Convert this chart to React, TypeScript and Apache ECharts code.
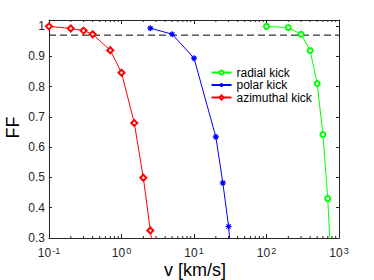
import React, { useEffect, useRef } from "react";
import * as echarts from "echarts";

// ---- data ----
const radialV = [100, 200, 300, 400, 500, 600, 700, 800];
const radialFF = [0.999, 0.995, 0.973, 0.919, 0.81, 0.642, 0.43, 0.15];

const polarV = [2.5, 5, 10, 20, 25, 30, 35];
const polarFF = [0.993, 0.973, 0.894, 0.634, 0.482, 0.338, 0.16];

const azimV = [0.1, 0.2, 0.3, 0.4, 0.7, 1, 1.5, 2, 2.5, 3];
const azimFF = [0.999, 0.992, 0.985, 0.973, 0.92, 0.846, 0.68, 0.499, 0.325, 0.18];

const thresholdFF = 0.97;

const seriesNames = ["radial kick", "polar kick", "azimuthal kick"];

// axis
const xMin = 0.1;
const xMax = 1000;
const yMin = 0.3;
const yMax = 1.02;
const yInterval = 0.1;
const minorDecades = [0.1, 1, 10, 100];
const minorMultipliers = [2, 3, 4, 5, 6, 7, 8, 9];

const FONT = "Liberation Sans";
const AX = "#262626";

const asteriskPath =
  "path://M5,0L5,10M0,5L10,5M1.5,1.5L8.5,8.5M1.5,8.5L8.5,1.5";

export default function App() {
  const ref = useRef<HTMLDivElement>(null);

  useEffect(() => {
    if (!ref.current) return;
    const chart = echarts.init(ref.current, undefined, { renderer: "svg" });

    const zip = (xs: number[], ys: number[]) => xs.map((x, i) => [x, ys[i]]);
    const minorTicks: number[][] = [];
    minorDecades.forEach((d) =>
      minorMultipliers.forEach((m) => minorTicks.push([d * m, yMin]))
    );

    const xLabelFormatter = (v: number) => {
      const e = Math.round(Math.log10(v));
      return `{b|10}{s|${e}}`;
    };

    const option: any = {
      animation: false,
      textStyle: { fontFamily: FONT },
      grid: { left: 49, right: 35, top: 20, bottom: 42, containLabel: false },
      xAxis: [
        {
          type: "log",
          logBase: 10,
          min: xMin,
          max: xMax,
          position: "bottom",
          axisLine: { lineStyle: { color: AX, width: 1 } },
          axisTick: { inside: true, length: 4, lineStyle: { color: AX } },
          splitLine: { show: false },
          minorTick: { show: false },
          axisLabel: {
            margin: 8,
            formatter: xLabelFormatter,
            rich: {
              b: {
                fontSize: 12,
                fontFamily: FONT,
                color: AX,
                lineHeight: 13,
                verticalAlign: "bottom",
              },
              s: {
                fontSize: 9,
                fontFamily: FONT,
                color: AX,
                lineHeight: 13,
                verticalAlign: "top",
                padding: [0, 0, 0, 1],
              },
            },
          },
        },
        {
          type: "log",
          logBase: 10,
          min: xMin,
          max: xMax,
          position: "top",
          axisLine: { lineStyle: { color: AX, width: 1 } },
          axisTick: { inside: true, length: 4, lineStyle: { color: AX } },
          splitLine: { show: false },
          axisLabel: { show: false },
        },
      ],
      yAxis: [
        {
          type: "value",
          min: yMin,
          max: yMax,
          interval: yInterval,
          position: "left",
          axisLine: { show: true, lineStyle: { color: AX, width: 1 } },
          axisTick: { show: true, inside: true, length: 3, lineStyle: { color: AX } },
          splitLine: { show: false },
          axisLabel: {
            margin: 4,
            fontSize: 12,
            fontFamily: FONT,
            color: AX,
            formatter: (v: number) => {
              const r = Math.round(v * 10) / 10;
              return Math.abs(v - r) < 1e-6 ? String(r) : "";
            },
          },
        },
        {
          type: "value",
          min: yMin,
          max: yMax,
          interval: yInterval,
          position: "right",
          axisLine: { show: true, lineStyle: { color: AX, width: 1 } },
          axisTick: { show: true, inside: true, length: 3, lineStyle: { color: AX } },
          splitLine: { show: false },
          axisLabel: { show: false },
        },
      ],
      legend: {
        data: seriesNames,
        orient: "vertical",
        left: 210.5,
        top: 66.5,
        itemWidth: 20,
        itemHeight: 5,
        itemGap: 0.5,
        padding: 0,
        textStyle: { fontSize: 12, fontFamily: FONT, color: "#000", lineHeight: 12 },
      },
      graphic: [
        {
          type: "text",
          x: 13,
          y: 127.5,
          rotation: Math.PI / 2,
          style: {
            text: "FF",
            fontSize: 18,
            fontFamily: FONT,
            fill: "#000",
            align: "center",
            verticalAlign: "middle",
          },
        },
        {
          type: "text",
          x: 195,
          y: 269.5,
          style: {
            text: "v [km/s]",
            fontSize: 18,
            fontFamily: FONT,
            fill: "#000",
            align: "center",
            verticalAlign: "middle",
          },
        },
      ],
      series: [
        {
          name: "threshold",
          type: "line",
          data: [
            [xMin, thresholdFF],
            [xMax, thresholdFF],
          ],
          symbol: "none",
          silent: true,
          lineStyle: { color: "#000", width: 1, type: [7, 4] },
          z: 1,
        },
        {
          name: "minorTicks",
          type: "custom",
          data: minorTicks,
          silent: true,
          clip: false,
          renderItem: (_p: any, api: any) => {
            const v = api.value(0);
            const b = api.coord([v, yMin]);
            const t = api.coord([v, yMax]);
            return {
              type: "group",
              children: [
                {
                  type: "line",
                  shape: { x1: b[0], y1: b[1], x2: b[0], y2: b[1] - 2 },
                  style: { stroke: AX, lineWidth: 1 },
                },
                {
                  type: "line",
                  shape: { x1: t[0], y1: t[1], x2: t[0], y2: t[1] + 2 },
                  style: { stroke: AX, lineWidth: 1 },
                },
              ],
            };
          },
        },
        {
          name: seriesNames[0],
          type: "line",
          data: zip(radialV, radialFF),
          symbol: "emptyCircle",
          symbolSize: 5,
          color: "#00ff00",
          lineStyle: { color: "#00ff00", width: 1 },
          itemStyle: { color: "#00ff00", borderColor: "#00ff00", borderWidth: 1 },
          z: 3,
        },
        {
          name: seriesNames[1],
          type: "line",
          data: zip(polarV, polarFF),
          symbol: asteriskPath,
          symbolSize: 6,
          color: "#0000ff",
          lineStyle: { color: "#0000ff", width: 1 },
          itemStyle: { color: "#0000ff", borderColor: "#0000ff", borderWidth: 1.2 },
          z: 3,
        },
        {
          name: seriesNames[2],
          type: "line",
          data: zip(azimV, azimFF),
          symbol: "emptyDiamond",
          symbolSize: 6,
          color: "#ff0000",
          lineStyle: { color: "#ff0000", width: 1 },
          itemStyle: { color: "#ff0000", borderColor: "#ff0000", borderWidth: 1 },
          z: 3,
        },
      ],
    };

    chart.setOption(option);
    return () => chart.dispose();
  }, []);

  return <div ref={ref} style={{ width: 374, height: 280, position: "absolute", left: 0, top: 0 }} />;
}
